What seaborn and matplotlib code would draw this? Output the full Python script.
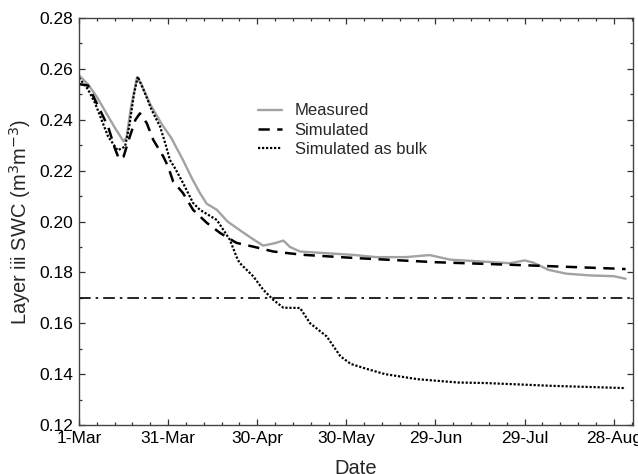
import matplotlib
matplotlib.use("Agg")
import matplotlib.pyplot as plt
from matplotlib.ticker import MultipleLocator, FixedLocator, FormatStrFormatter
import seaborn as sns
import pandas as pd

# Days since 1 March
measured_day = [0, 3, 6, 9, 12, 15, 16, 17.5, 19.5, 21, 24, 28, 31, 35, 38, 40.7, 43,
                46.4, 50, 54, 58, 62, 66, 68.8, 71, 74.4, 81, 92, 100, 110, 118, 125,
                135, 145, 150, 153, 158, 164, 172, 180, 184]
measured_swc = [0.2575, 0.254, 0.249, 0.243, 0.237, 0.2315, 0.233, 0.245, 0.2565, 0.254,
                0.246, 0.238, 0.233, 0.2242, 0.217, 0.2112, 0.207, 0.2046, 0.200, 0.1967,
                0.1935, 0.1905, 0.1915, 0.1925, 0.190, 0.1882, 0.1877, 0.1869, 0.186,
                0.186, 0.1868, 0.185, 0.1843, 0.1836, 0.1847, 0.1838, 0.181, 0.1795,
                0.1788, 0.1785, 0.1775]

simulated_day = [0, 3, 4.3, 7, 9.8, 12, 13.5, 15, 17, 19, 20.5, 22.8, 25, 28.4, 30, 31.7,
                 35, 38.4, 43, 47.5, 53, 58.7, 65.4, 75.4, 93.5, 120, 150, 180, 184]
simulated_swc = [0.254, 0.2535, 0.2505, 0.244, 0.2373, 0.229, 0.2245, 0.2255, 0.233, 0.240,
                 0.2425, 0.2387, 0.2321, 0.2255, 0.2216, 0.2157, 0.2112, 0.2046, 0.1995,
                 0.1955, 0.1916, 0.1901, 0.1882, 0.1869, 0.1856, 0.184, 0.1828, 0.1815,
                 0.1813]

bulk_day = [0, 3, 5.4, 9.8, 13, 15.5, 17, 18.5, 19.8, 22, 24.5, 27.3, 29, 30.6, 32.3, 35,
            38.4, 40.7, 46.4, 50.8, 53, 54, 58.7, 62, 65.4, 68.8, 74.4, 77.8, 83.4, 88,
            91.5, 97, 103, 114, 127.6, 136.7, 159, 170, 184]
bulk_swc = [0.2565, 0.252, 0.2466, 0.2334, 0.228, 0.2294, 0.238, 0.250, 0.257, 0.251,
            0.2438, 0.2373, 0.2309, 0.2242, 0.221, 0.2152, 0.2073, 0.2046, 0.2006, 0.1928,
            0.1862, 0.1838, 0.1784, 0.1732, 0.1692, 0.1661, 0.166, 0.160, 0.1548, 0.147,
            0.144, 0.142, 0.140, 0.138, 0.1367, 0.1365, 0.1354, 0.135, 0.1345]

threshold_swc = 0.17

tick_days = [0, 30, 60, 90, 120, 150, 180]
tick_labels = ["1-Mar", "31-Mar", "30-Apr", "30-May", "29-Jun", "29-Jul", "28-Aug"]

sns.set_style("ticks")
plt.rcParams["font.family"] = ["Liberation Sans", "DejaVu Sans"]

fig = plt.figure(figsize=(6.38, 4.74), dpi=100)
ax = fig.add_axes([0.1238, 0.1034, 0.8684, 0.8586])

df_m = pd.DataFrame({"day": measured_day, "swc": measured_swc})
df_s = pd.DataFrame({"day": simulated_day, "swc": simulated_swc})
df_b = pd.DataFrame({"day": bulk_day, "swc": bulk_swc})

sns.lineplot(data=df_m, x="day", y="swc", ax=ax, color="#a2a2a2", lw=1.7,
             label="Measured")
sns.lineplot(data=df_s, x="day", y="swc", ax=ax, color="black", lw=1.8,
             dashes=False, label="Simulated")
ax.lines[-1].set_dashes([4.5, 3.0])
sns.lineplot(data=df_b, x="day", y="swc", ax=ax, color="black", lw=1.6,
             label="Simulated as bulk")
ax.lines[-1].set_linestyle((0, (1, 0.8)))
ax.axhline(threshold_swc, color="black", lw=1.2, ls=(0, (7, 3, 1.5, 3)))

ax.set_xlim(0, 186.5)
ax.set_ylim(0.12, 0.28)
ax.xaxis.set_major_locator(FixedLocator(tick_days))
ax.set_xticklabels(tick_labels)
ax.xaxis.set_minor_locator(MultipleLocator(6))
ax.yaxis.set_major_locator(MultipleLocator(0.02))
ax.yaxis.set_minor_locator(MultipleLocator(0.01))
ax.yaxis.set_major_formatter(FormatStrFormatter("%.2f"))

ax.tick_params(which="both", direction="in", top=True, right=True,
               colors="#333333", labelcolor="black", labelsize=12.5, width=0.9)
ax.tick_params(which="major", length=4, pad=4)
ax.tick_params(which="minor", length=2.5)
for sp in ax.spines.values():
    sp.set_visible(True)
    sp.set_color("#444444")
    sp.set_linewidth(1.0)

ax.set_xlabel("Date", fontsize=14.5, labelpad=10)
ax.set_ylabel("Layer iii SWC (m$^3$m$^{-3}$)", fontsize=14.5, labelpad=5)

leg = ax.legend(loc="upper left", bbox_to_anchor=(0.323, 0.79), frameon=False,
                fontsize=12, handlelength=1.45, handletextpad=0.75,
                labelspacing=0.25, borderpad=0, borderaxespad=0)

fig.savefig("out.png", dpi=100)
